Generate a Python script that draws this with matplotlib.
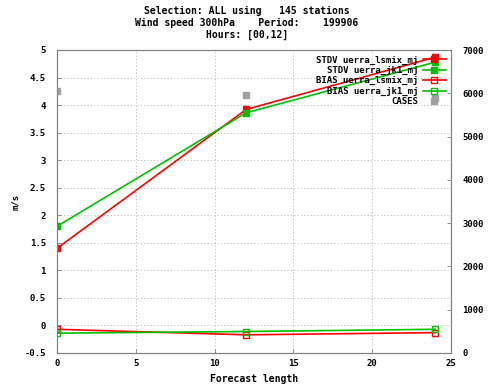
import matplotlib
matplotlib.use("Agg")
import matplotlib.pyplot as plt

hours = [0, 12, 24]
stdv_lsmix = [1.40, 3.92, 4.87]
stdv_jk1 = [1.80, 3.86, 4.78]
bias_lsmix = [-0.07, -0.17, -0.13]
bias_jk1 = [-0.14, -0.11, -0.07]
cases = [6060, 5960, 5900]

labels = ["STDV uerra_lsmix_mj", "STDV uerra_jk1_mj",
          "BIAS uerra_lsmix_mj", "BIAS uerra_jk1_mj", "CASES"]
title = "Selection: ALL using   145 stations\nWind speed 300hPa    Period:    199906\nHours: [00,12]"

red = "#ff0000"
green = "#00c000"
grey = "#a0a0a0"
font = "DejaVu Sans Mono"
fs = 6.5

fig = plt.figure(figsize=(4.89, 3.85), dpi=100)
ax = fig.add_axes([57/489, 1-353/385, (451-57)/489, (353-50)/385])
ax2 = ax.twinx()

l1, = ax.plot(hours, stdv_lsmix, color=red, lw=1.2, marker="s", ms=4, mfc=red, mec=red)
l2, = ax.plot(hours, stdv_jk1, color=green, lw=1.2, marker="s", ms=4, mfc=green, mec=green)
l3, = ax.plot(hours, bias_lsmix, color=red, lw=1.2, marker="s", ms=4, mfc="none", mec=red)
l4, = ax.plot(hours, bias_jk1, color=green, lw=1.2, marker="s", ms=4, mfc="none", mec=green)
l5, = ax2.plot(hours, cases, color=grey, lw=0, marker="s", ms=4.5, mfc=grey, mec=grey)

ax.set_xlim(0, 25)
ax.set_ylim(-0.5, 5)
ax2.set_ylim(0, 7000)
ax.set_xticks([0, 5, 10, 15, 20, 25])
ax.set_yticks([-0.5 + 0.5*i for i in range(12)])
ax.set_yticklabels(["-0.5", "0", "0.5", "1", "1.5", "2", "2.5", "3", "3.5", "4", "4.5", "5"])
ax2.set_yticks(range(0, 7001, 1000))

for a in (ax, ax2):
    for lab in a.get_xticklabels() + a.get_yticklabels():
        lab.set_fontfamily(font)
        lab.set_fontsize(fs)
        lab.set_fontweight("bold")
    a.tick_params(direction="in", length=3, width=0.6, color="#808080", pad=4)
    for s in a.spines.values():
        s.set_color("#808080")
        s.set_linewidth(0.8)
ax.tick_params(axis="y", pad=8)
ax2.tick_params(axis="y", pad=8)

ax.grid(True, color="#b8b8b8", linestyle=(0, (1.5, 2.5)), linewidth=0.6)
ax.set_axisbelow(True)

ax.set_xlabel("Forecast length", fontfamily=font, fontsize=7, fontweight="bold", labelpad=5)
ax.set_ylabel("m/s", fontfamily=font, fontsize=fs, fontweight="bold", labelpad=3)

fig.text(0.505, 0.985, title, ha="center", va="top", fontfamily=font,
         fontsize=7, fontweight="bold", linespacing=1.25)

leg = ax2.legend([l1, l2, l3, l4, l5], labels, loc="upper right", markerfirst=False,
                 frameon=False, prop={"family": font, "size": fs, "weight": "bold"},
                 handlelength=2.5, labelspacing=0.15, borderaxespad=0.2, handletextpad=0.5)
for t in leg.get_texts():
    t.set_ha("right")

fig.savefig("out.png", dpi=100)
